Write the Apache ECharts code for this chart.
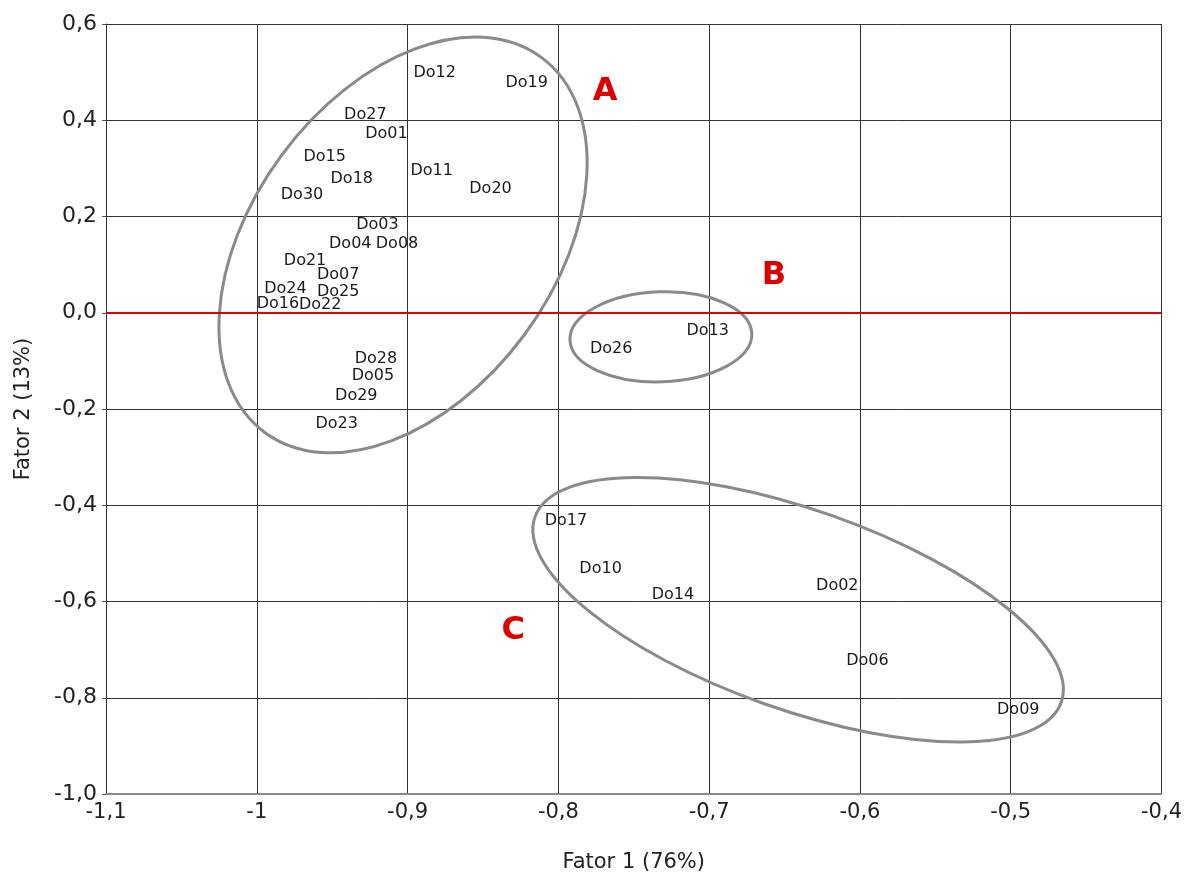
<!DOCTYPE html>
<html>
<head>
<meta charset="utf-8">
<script src="https://cdn.jsdelivr.net/npm/echarts@6/dist/echarts.min.js"></script>
<style>
  html, body { margin: 0; padding: 0; background: #fff; overflow: hidden; }
  #chart { width: 1185px; height: 880px; }
</style>
</head>
<body>
<div id="chart"></div>
<script>
// ---- data ----
const pointNames = ['Do12','Do19','Do27','Do01','Do15','Do11','Do18','Do20','Do30','Do03',
  'Do04','Do08','Do21','Do07','Do24','Do25','Do16','Do22','Do13','Do26',
  'Do28','Do05','Do29','Do23','Do17','Do10','Do14','Do02','Do06','Do09'];
const fator1 = [-0.882,-0.821,-0.928,-0.914,-0.955,-0.884,-0.937,-0.845,-0.970,-0.920,
  -0.938,-0.907,-0.968,-0.946,-0.981,-0.946,-0.986,-0.958,-0.701,-0.765,
  -0.921,-0.923,-0.934,-0.947,-0.795,-0.772,-0.724,-0.615,-0.595,-0.495];
const fator2 = [0.498,0.477,0.411,0.371,0.323,0.295,0.278,0.257,0.245,0.182,
  0.144,0.144,0.108,0.078,0.049,0.043,0.018,0.016,-0.038,-0.075,
  -0.096,-0.132,-0.172,-0.231,-0.432,-0.533,-0.587,-0.568,-0.724,-0.826];

const groupNames = ['A','B','C'];
const groupLabelX = [-0.769,-0.657,-0.830];
const groupLabelY = [0.459,0.078,-0.661];

// ellipse centres in data units
const ellipseCenterX = [-0.903,-0.732,-0.641];
const ellipseCenterY = [0.141,-0.050,-0.617];

const xTickLabels = ['-1,1','-1','-0,9','-0,8','-0,7','-0,6','-0,5','-0,4'];
const yTickLabels = ['-1,0','-0,8','-0,6','-0,4','-0,2','0,0','0,2','0,4','0,6'];

// ---- shape/style of the group ellipses (pixels, degrees) ----
const ellipseShape = [
  { rx: 233, ry: 151, angle: 53.6 },
  { rx: 91,  ry: 45,  angle: 2 },
  { rx: 279, ry: 100, angle: -19.4 }
];

const FONT = 'DejaVu Sans';
const chart = echarts.init(document.getElementById('chart'), null, { renderer: 'canvas' });

const pointData = pointNames.map((n, i) => ({ name: n, value: [fator1[i], fator2[i]] }));
const groupData = groupNames.map((n, i) => ({ name: n, value: [groupLabelX[i], groupLabelY[i]] }));
const ellipseData = ellipseCenterX.map((x, i) => [x, ellipseCenterY[i], i]);

chart.setOption({
  animation: false,
  backgroundColor: '#ffffff',
  grid: { left: 106, right: 18, top: 24, bottom: 86, containLabel: false },
  xAxis: {
    type: 'value', min: -1.1, max: -0.4, interval: 0.1,
    name: 'Fator 1 (76%)', nameLocation: 'middle', nameGap: 58,
    nameTextStyle: { fontFamily: FONT, fontSize: 21, color: '#222' },
    axisLine: { show: true, onZero: false, lineStyle: { color: '#8a8a8a', width: 2 } },
    axisTick: { show: false },
    axisLabel: {
      fontFamily: FONT, fontSize: 21, color: '#222', margin: 8,
      formatter: (v, i) => xTickLabels[i]
    },
    splitLine: { show: true, lineStyle: { color: '#333', width: 1 } }
  },
  yAxis: {
    type: 'value', min: -1.0, max: 0.6, interval: 0.2,
    name: 'Fator 2 (13%)', nameLocation: 'middle', nameGap: 72, nameRotate: 90,
    nameTextStyle: { fontFamily: FONT, fontSize: 21, color: '#222' },
    axisLine: { show: true, onZero: false, lineStyle: { color: '#333', width: 1 } },
    axisTick: { show: true, length: 4, lineStyle: { color: '#555' } },
    axisLabel: {
      fontFamily: FONT, fontSize: 22, color: '#222', margin: 9,
      formatter: (v, i) => yTickLabels[i]
    },
    splitLine: { show: true, lineStyle: { color: '#333', width: 1 } }
  },
  series: [
    {
      type: 'custom',
      coordinateSystem: 'cartesian2d',
      data: ellipseData,
      silent: true,
      z: 3,
      renderItem: function (params, api) {
        const c = api.coord([api.value(0), api.value(1)]);
        const s = ellipseShape[api.value(2)];
        return {
          type: 'ellipse',
          x: c[0], y: c[1],
          rotation: s.angle * Math.PI / 180,
          shape: { cx: 0, cy: 0, rx: s.rx, ry: s.ry },
          style: { fill: 'none', stroke: '#8a8a8a', lineWidth: 3 }
        };
      }
    },
    {
      type: 'scatter',
      data: pointData,
      symbol: 'circle',
      symbolSize: 2,
      itemStyle: { color: 'rgba(0,0,0,0)', opacity: 1 },
      z: 5,
      label: {
        show: true, position: 'inside',
        formatter: p => p.name,
        fontFamily: FONT, fontSize: 16, color: '#1a1a1a'
      },
      labelLayout: { hideOverlap: false },
      markLine: {
        silent: true, symbol: 'none',
        label: { show: false },
        lineStyle: { color: '#e00000', width: 2, type: 'solid', opacity: 1 },
        data: [{ yAxis: 0 }]
      }
    },
    {
      type: 'scatter',
      data: groupData,
      symbol: 'circle',
      symbolSize: 2,
      itemStyle: { color: 'rgba(0,0,0,0)', opacity: 1 },
      z: 5,
      label: {
        show: true, position: 'inside',
        formatter: p => p.name,
        fontFamily: FONT, fontSize: 32, fontWeight: 'bold', color: '#dd0000'
      }
    }
  ]
});
</script>
</body>
</html>
